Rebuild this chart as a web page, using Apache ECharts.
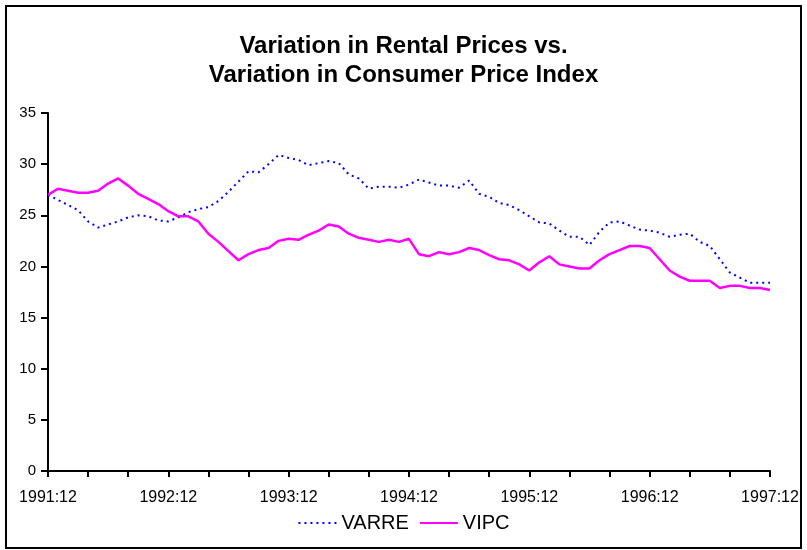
<!DOCTYPE html>
<html>
<head>
<meta charset="utf-8">
<script src="https://cdn.jsdelivr.net/npm/echarts@6/dist/echarts.min.js"></script>
<style>
  html, body { margin: 0; padding: 0; background: #fff; }
  #chart { width: 807px; height: 550px; }
</style>
</head>
<body>
<div id="chart"></div>
<script>
// monthly categories 1991:12 .. 1997:12
var months = [];
for (var y = 1991, m = 12; y < 1998; ) {
    months.push(y + ':' + (m < 10 ? '0' + m : m));
    if (y === 1997 && m === 12) break;
    m++;
    if (m > 12) { m = 1; y++; }
}

var varre = [
    27.0, 26.5, 26.0, 25.5, 24.4, 23.8, 24.1, 24.4, 24.8, 25.0, 24.9, 24.5,
    24.4, 24.8, 25.3, 25.6, 25.8, 26.4, 27.3, 28.3, 29.3, 29.2, 30.0, 30.9,
    30.6, 30.4, 29.9, 30.1, 30.3, 30.1, 29.0, 28.6, 27.6, 27.8, 27.8, 27.7,
    28.0, 28.5, 28.2, 27.9, 27.9, 27.7, 28.4, 27.1, 26.8, 26.2, 26.0, 25.5,
    24.9, 24.3, 24.2, 23.5, 22.9, 22.9, 22.1, 23.4, 24.3, 24.4, 24.0, 23.6,
    23.5, 23.3, 22.9, 23.1, 23.2, 22.4, 22.0, 20.7, 19.4, 18.9, 18.4, 18.4,
    18.4
];

var vipc = [
    27.0, 27.6, 27.4, 27.2, 27.2, 27.4, 28.1, 28.6, 27.9, 27.1, 26.6, 26.1,
    25.4, 24.9, 24.9, 24.4, 23.2, 22.4, 21.5, 20.6, 21.2, 21.6, 21.8, 22.5,
    22.7, 22.6, 23.1, 23.5, 24.1, 23.9, 23.2, 22.8, 22.6, 22.4, 22.6, 22.4,
    22.7, 21.2, 21.0, 21.4, 21.2, 21.4, 21.8, 21.6, 21.1, 20.7, 20.6, 20.2,
    19.6, 20.4, 21.0, 20.2, 20.0, 19.8, 19.8, 20.6, 21.2, 21.6, 22.0, 22.0,
    21.8, 20.7, 19.6, 19.0, 18.6, 18.6, 18.6, 17.9, 18.1, 18.1, 17.9, 17.9,
    17.7
];

var font = 'Liberation Sans, Arial, sans-serif';

var chart = echarts.init(document.getElementById('chart'));
chart.setOption({
    animation: false,
    backgroundColor: '#fff',
    title: {
        text: 'Variation in Rental Prices vs.\nVariation in Consumer Price Index',
        left: 'center',
        top: 27,
        textStyle: {
            fontFamily: font,
            fontSize: 24,
            fontWeight: 'bold',
            color: '#000',
            lineHeight: 29
        }
    },
    legend: {
        bottom: 12,
        left: 'center',
        itemWidth: 38,
        itemHeight: 12,
        itemGap: 10,
        itemStyle: { opacity: 0 },
        textStyle: { fontFamily: font, fontSize: 20, color: '#000' },
        data: ['VARRE', 'VIPC']
    },
    grid: { left: 48, right: 37, top: 113, bottom: 79 },
    xAxis: {
        type: 'category',
        data: months,
        boundaryGap: false,
        axisLine: { lineStyle: { color: '#000', width: 2 } },
        axisTick: { interval: 3, length: 6, lineStyle: { color: '#000', width: 2 } },
        axisLabel: {
            interval: 11,
            color: '#000',
            fontFamily: font,
            fontSize: 16,
            margin: 19
        },
        splitLine: { show: false }
    },
    yAxis: {
        type: 'value',
        min: 0,
        max: 35,
        interval: 5,
        axisLine: { show: true, lineStyle: { color: '#000', width: 2 } },
        axisTick: { show: true, length: 7, lineStyle: { color: '#000', width: 2 } },
        axisLabel: { color: '#000', fontFamily: font, fontSize: 15, margin: 12 },
        splitLine: { show: false }
    },
    series: [
        {
            name: 'VARRE',
            type: 'line',
            data: varre,
            symbol: 'none',
            color: '#0000ff',
            lineStyle: { color: '#0000ff', width: 2, type: [2, 4] }
        },
        {
            name: 'VIPC',
            type: 'line',
            data: vipc,
            symbol: 'none',
            color: '#ff00ff',
            lineStyle: { color: '#ff00ff', width: 2.5 }
        }
    ],
    graphic: [{
        type: 'rect',
        shape: { x: 6, y: 6, width: 795, height: 542 },
        style: { fill: null, stroke: '#000', lineWidth: 2 },
        silent: true
    }]
});
</script>
</body>
</html>
